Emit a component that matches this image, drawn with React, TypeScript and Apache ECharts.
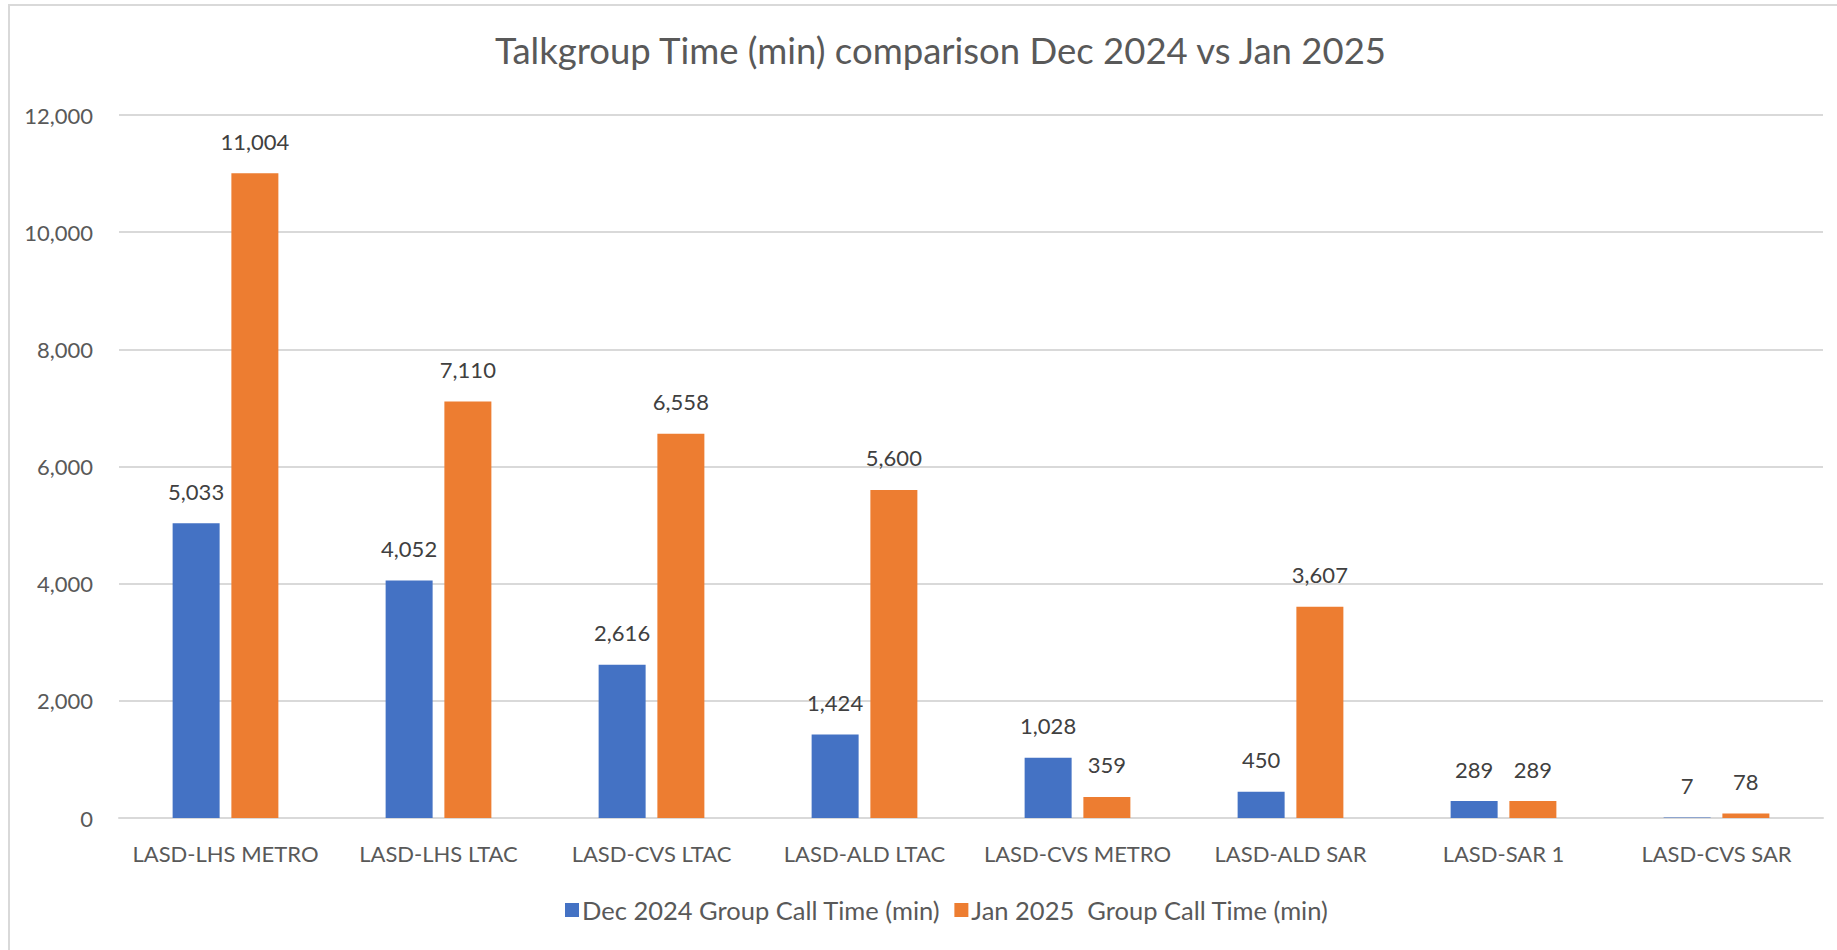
import React, { useEffect, useRef } from "react";
import * as echarts from "echarts";

const categories = [
  "LASD-LHS METRO",
  "LASD-LHS LTAC",
  "LASD-CVS LTAC",
  "LASD-ALD LTAC",
  "LASD-CVS METRO",
  "LASD-ALD SAR",
  "LASD-SAR 1",
  "LASD-CVS SAR",
];
const dec2024 = [5033, 4052, 2616, 1424, 1028, 450, 289, 7];
const jan2025 = [11004, 7110, 6558, 5600, 359, 3607, 289, 78];
const seriesNames = ["Dec 2024 Group Call Time (min)", "Jan 2025  Group Call Time (min)"];
const titleText = "Talkgroup Time (min) comparison Dec 2024 vs Jan 2025";

const FONT = "Lato, 'Open Sans', sans-serif";
const TEXT = "#595959";

const fmt = (v: number) => v.toLocaleString("en-US");

export default function App() {
  const ref = useRef<HTMLDivElement>(null);
  useEffect(() => {
    if (!ref.current) return;
    const chart = echarts.init(ref.current, undefined, { renderer: "svg" });
    const labelStyle = {
      show: true,
      position: "top" as const,
      distance: 21,
      color: "#404040",
      fontFamily: FONT,
      fontSize: 22,
      formatter: (p: any) => fmt(p.value),
    };
    chart.setOption({
      animation: false,
      backgroundColor: "#ffffff",
      title: {
        text: titleText,
        left: 490,
        top: 26,
        textStyle: { fontFamily: FONT, fontSize: 36.5, fontWeight: "normal", color: TEXT },
      },
      graphic: [
        {
          type: "rect",
          shape: { x: 9, y: 5, width: 1900, height: 1000 },
          style: { fill: "none", stroke: "#D9D9D9", lineWidth: 2 },
          silent: true,
        },
      ],
      legend: {
        bottom: 22,
        left: 560,
        itemWidth: 14,
        itemHeight: 14,
        itemGap: 14,
        icon: "rect",
        textStyle: { fontFamily: FONT, fontSize: 25.5, color: TEXT, padding: [0, 0, 0, -2] },
        data: seriesNames,
      },
      grid: { left: 119, right: 14, top: 115, bottom: 132, containLabel: false },
      xAxis: {
        type: "category",
        data: categories,
        axisLine: { lineStyle: { color: "#D9D9D9", width: 2 } },
        axisTick: { show: false },
        axisLabel: { fontFamily: FONT, fontSize: 22, color: TEXT, margin: 24, interval: 0 },
      },
      yAxis: {
        type: "value",
        min: 0,
        max: 12000,
        interval: 2000,
        axisLine: { show: false },
        axisTick: { show: false },
        splitLine: { lineStyle: { color: "#D9D9D9", width: 2 } },
        axisLabel: {
          fontFamily: FONT,
          fontSize: 22,
          color: TEXT,
          margin: 26,
          formatter: (v: number) => fmt(v),
        },
      },
      series: [
        {
          name: seriesNames[0],
          type: "bar",
          data: dec2024,
          barWidth: 47,
          barGap: "25%",
          itemStyle: { color: "#4472C4" },
          label: labelStyle,
        },
        {
          name: seriesNames[1],
          type: "bar",
          data: jan2025,
          barWidth: 47,
          barGap: "25%",
          itemStyle: { color: "#ED7D31" },
          label: labelStyle,
        },
      ],
    });
    return () => chart.dispose();
  }, []);
  return (
    <div
      ref={ref}
      style={{ position: "fixed", left: 0, top: 0, width: 1837, height: 950, background: "#fff" }}
    />
  );
}
